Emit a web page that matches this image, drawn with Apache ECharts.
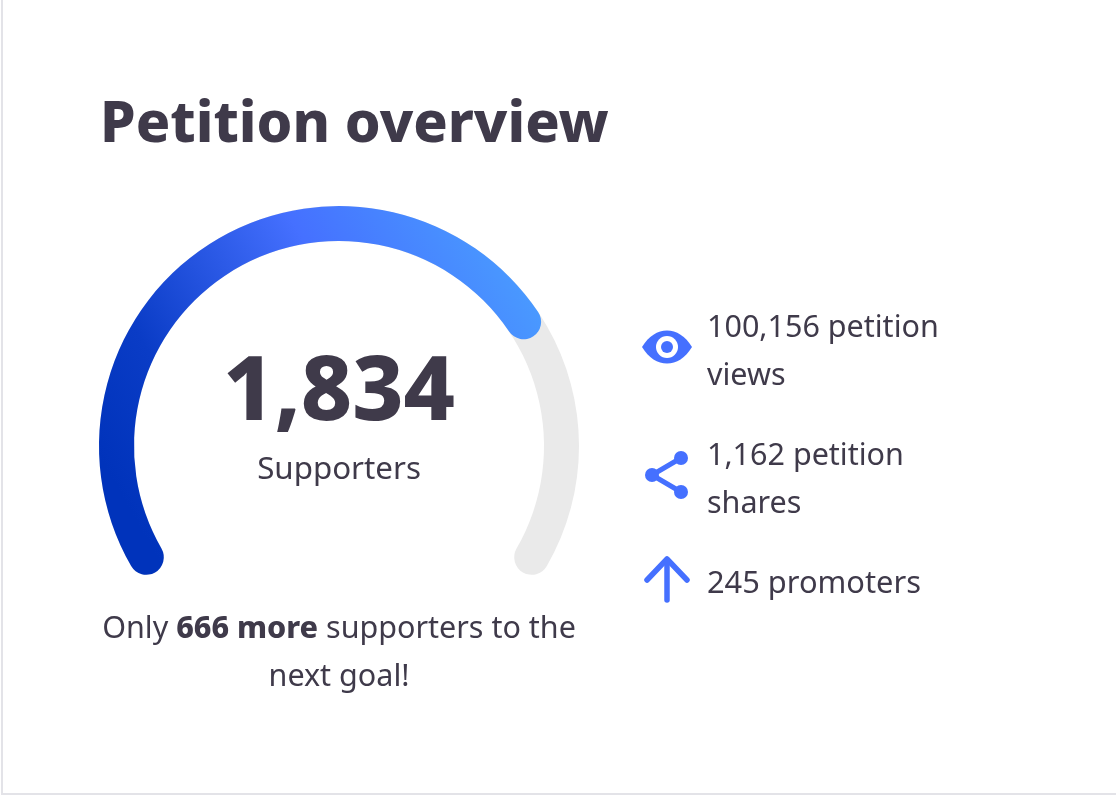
<!DOCTYPE html>
<html>
<head>
<meta charset="utf-8">
<style>
  html, body { margin: 0; padding: 0; background: #fff; }
  #main { width: 1116px; height: 795px; }
</style>
<script src="https://cdn.jsdelivr.net/npm/echarts@6/dist/echarts.min.js"></script>
</head>
<body>
<div id="main"></div>
<script>
var chartTitle = 'Petition overview';
var supporters = 1834;
var nextGoal = 2500;
var supportersLabel = 'Supporters';
var moreToGoal = 666;
var statLines = [['100,156 petition', 'views'], ['1,162 petition', 'shares'], ['245 promoters']];

var ink = '#3f3a4a';
var blue = '#4570ff';
var font = 'Noto Sans';

var chart = echarts.init(document.getElementById('main'));

function textEl(x, y, str, size, weight, align) {
  return {
    type: 'text', x: x, y: y,
    style: {
      text: str, fill: ink, font: (weight || 400) + ' ' + size + 'px "' + font + '"',
      textAlign: align || 'left', textVerticalAlign: 'middle'
    }
  };
}

var graphics = [
  { type: 'polyline', shape: { points: [[2, 0], [2, 794], [1116, 794]] }, style: { stroke: '#e3e3e8', lineWidth: 2, fill: null } },
  textEl(100, 126, chartTitle, 57, 800),
  textEl(707, 328, statLines[0][0], 30.5),
  textEl(707, 376, statLines[0][1], 30.5),
  textEl(707, 456, statLines[1][0], 30.5),
  textEl(707, 504, statLines[1][1], 30.5),
  textEl(707, 584, statLines[2][0], 30.8),
  // eye
  { type: 'bezierCurve', shape: { x1: 642, y1: 347, cpx1: 655, cpy1: 325, cpx2: 679, cpy2: 325, x2: 692, y2: 347 }, style: { fill: blue, stroke: null } },
  { type: 'bezierCurve', shape: { x1: 642, y1: 347, cpx1: 655, cpy1: 369, cpx2: 679, cpy2: 369, x2: 692, y2: 347 }, style: { fill: blue, stroke: null } },
  { type: 'circle', shape: { cx: 667, cy: 347, r: 11 }, style: { fill: '#fff' } },
  { type: 'circle', shape: { cx: 667, cy: 347, r: 6 }, style: { fill: blue } },
  // share
  { type: 'polyline', shape: { points: [[681, 458], [652, 475], [681, 492]] }, style: { stroke: blue, lineWidth: 5, fill: null } },
  { type: 'circle', shape: { cx: 681, cy: 458, r: 7 }, style: { fill: blue } },
  { type: 'circle', shape: { cx: 652, cy: 475, r: 7 }, style: { fill: blue } },
  { type: 'circle', shape: { cx: 681, cy: 492, r: 7 }, style: { fill: blue } },
  // arrow
  { type: 'polyline', shape: { points: [[647, 580], [667, 559], [687, 580]] }, style: { stroke: blue, lineWidth: 5.5, lineCap: 'round', lineJoin: 'round', fill: null } },
  { type: 'line', shape: { x1: 667, y1: 560, x2: 667, y2: 600 }, style: { stroke: blue, lineWidth: 5.5, lineCap: 'round' } }
];

chart.setOption({
  backgroundColor: '#fff',
  animation: false,
  title: {
    text: '{n|Only }{b|' + moreToGoal + ' more}{n| supporters to the}\n{n|next goal!}',
    left: 339,
    top: 605,
    textAlign: 'center',
    padding: 0,
    textStyle: {
      rich: {
        n: { fontFamily: font, fontSize: 30.5, fontWeight: 400, color: ink, lineHeight: 48 },
        b: { fontFamily: font, fontSize: 30.5, fontWeight: 800, color: ink, lineHeight: 48 }
      }
    }
  },
  graphic: { elements: graphics },
  series: [{
    type: 'gauge',
    center: [339, 446],
    radius: 240,
    startAngle: 210,
    endAngle: -30,
    min: 0,
    max: nextGoal,
    pointer: { show: false },
    axisTick: { show: false },
    splitLine: { show: false },
    axisLabel: { show: false },
    axisLine: { roundCap: true, lineStyle: { width: 35, color: [[1, '#eaeaea']] } },
    progress: {
      show: true, roundCap: true, width: 35,
      itemStyle: {
        color: {
          type: 'linear', x: 0.02, y: 0.72, x2: 0.95, y2: 0.08,
          colorStops: [
            { offset: 0, color: '#0033bb' },
            { offset: 0.2, color: '#0a3cc6' },
            { offset: 0.6, color: '#4570ff' },
            { offset: 1, color: '#4a9eff' }
          ]
        }
      }
    },
    title: {
      offsetCenter: [0, 24], fontFamily: font, fontSize: 31.3, color: ink
    },
    detail: {
      offsetCenter: [0, -51], fontFamily: font, fontSize: 89, fontWeight: 800, color: ink,
      formatter: function (v) { return v.toLocaleString('en-US'); }
    },
    data: [{ value: supporters, name: supportersLabel }]
  }]
});
</script>
</body>
</html>
